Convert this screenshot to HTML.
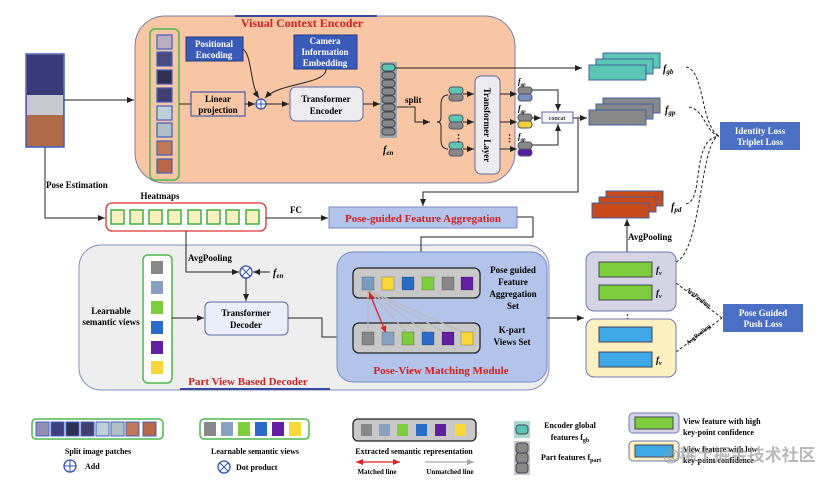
<!DOCTYPE html>
<html><head><meta charset="utf-8"><style>
body{margin:0;background:#fff}
svg text{font-family:"Liberation Serif",serif;font-weight:bold}
</style></head><body>
<svg width="831" height="480" viewBox="0 0 831 480" xmlns="http://www.w3.org/2000/svg">
<defs>
<marker id="a" markerWidth="8" markerHeight="8" refX="7" refY="4" orient="auto" markerUnits="userSpaceOnUse"><path d="M0,1 L7,4 L0,7z" fill="#222"/></marker>
<marker id="r" markerWidth="8" markerHeight="8" refX="7" refY="4" orient="auto-start-reverse" markerUnits="userSpaceOnUse"><path d="M0,1 L7,4 L0,7z" fill="#e02020"/></marker>
<marker id="g" markerWidth="8" markerHeight="8" refX="7" refY="4" orient="auto" markerUnits="userSpaceOnUse"><path d="M0,1 L7,4 L0,7z" fill="#aaa"/></marker>
<g id="tok"><rect x="0" y="0" width="14" height="7" rx="3" fill="#5cc6b4" stroke="#556"/><rect x="0" y="7" width="14" height="7" rx="3" fill="#888" stroke="#556"/></g>
</defs>

<!-- Encoder -->
<rect x="135" y="16" width="380" height="167" rx="30" fill="#f8c6a4" stroke="#7a80a8"/>
<line x1="235" y1="16" x2="377" y2="16" stroke="#3a4aa0" stroke-width="2"/>
<text x="302" y="27" font-size="12" fill="#d02020" text-anchor="middle">Visual Context Encoder</text>

<!-- person -->
<rect x="26" y="54" width="38" height="93" fill="#b06a48" stroke="#4060c0" stroke-width="1.5"/>
<rect x="27" y="55" width="36" height="40" fill="#3a3a78"/>
<rect x="27" y="95" width="36" height="20" fill="#c8c8d0"/>
<line x1="64" y1="100" x2="134" y2="100" stroke="#222" marker-end="url(#a)"/>
<polyline points="45,147 45,218 105,218" fill="none" stroke="#222" marker-end="url(#a)"/>
<text x="46" y="188" font-size="9">Pose Estimation</text>

<!-- patches -->
<rect x="150" y="29" width="29" height="151" rx="5" fill="none" stroke="#4cb84c" stroke-width="1.5"/>
<g stroke="#4060c0" stroke-width="1.2">
<rect x="157" y="35" width="15" height="14" fill="#b8b0c0"/><rect x="157" y="52" width="15" height="14" fill="#4a4a80"/>
<rect x="157" y="70" width="15" height="14" fill="#303050"/><rect x="157" y="88" width="15" height="14" fill="#404070"/>
<rect x="157" y="106" width="15" height="14" fill="#c0d0d8"/><rect x="157" y="123" width="15" height="14" fill="#b0c0c8"/>
<rect x="157" y="141" width="15" height="14" fill="#c07858"/><rect x="157" y="159" width="15" height="14" fill="#b86848"/>
</g>
<line x1="179" y1="104" x2="191" y2="104" stroke="#222"/>
<rect x="186" y="37" width="57" height="24" fill="#3a5bb8" stroke="#233a80"/>
<text x="214" y="47" font-size="9" fill="#fff" text-anchor="middle">Positional</text>
<text x="214" y="58" font-size="9" fill="#fff" text-anchor="middle">Encoding</text>
<rect x="294" y="35" width="63" height="34" fill="#3a5bb8" stroke="#233a80"/>
<text x="325" y="44" font-size="9" fill="#fff" text-anchor="middle">Camera</text>
<text x="325" y="55" font-size="9" fill="#fff" text-anchor="middle">Information</text>
<text x="325" y="66" font-size="9" fill="#fff" text-anchor="middle">Embedding</text>
<rect x="191" y="92" width="54" height="24" fill="#f8c6a4" stroke="#4060a0" stroke-width="1.2"/>
<text x="218" y="102" font-size="9" text-anchor="middle">Linear</text>
<text x="218" y="113" font-size="9" text-anchor="middle">projection</text>
<line x1="245" y1="104" x2="255" y2="104" stroke="#222" marker-end="url(#a)"/>
<circle cx="261" cy="104" r="5" fill="#fff" stroke="#3050b0" stroke-width="1.3"/>
<path d="M256,104h10M261,99v10" stroke="#3050b0"/>
<path d="M243,49 C252,55 250,85 259,98" fill="none" stroke="#222" marker-end="url(#a)"/>
<path d="M326,69 C326,85 280,82 265,98" fill="none" stroke="#222" marker-end="url(#a)"/>
<line x1="266" y1="104" x2="289" y2="104" stroke="#222" marker-end="url(#a)"/>
<rect x="290" y="87" width="73" height="34" rx="6" fill="#ececf0" stroke="#5a6aa0"/>
<text x="326" y="102" font-size="9" text-anchor="middle">Transformer</text>
<text x="326" y="114" font-size="9" text-anchor="middle">Encoder</text>
<line x1="363" y1="104" x2="380" y2="104" stroke="#222" marker-end="url(#a)"/>

<!-- f_en column -->
<rect x="380" y="62" width="17" height="76" fill="#9aa8a8"/>
<rect x="382" y="64" width="13" height="7" rx="3" fill="#5cc6b4" stroke="#445"/>
<g fill="#888" stroke="#445">
<rect x="382" y="72" width="13" height="7" rx="3"/><rect x="382" y="80" width="13" height="7" rx="3"/><rect x="382" y="88" width="13" height="7" rx="3"/><rect x="382" y="96" width="13" height="7" rx="3"/><rect x="382" y="104" width="13" height="7" rx="3"/><rect x="382" y="112" width="13" height="7" rx="3"/><rect x="382" y="120" width="13" height="7" rx="3"/><rect x="382" y="128" width="13" height="7" rx="3"/>
</g>
<text x="383" y="153" font-size="10" font-style="italic">f<tspan font-size="7" dy="2">en</tspan></text>
<line x1="395" y1="68" x2="582" y2="68" stroke="#222" marker-end="url(#a)"/>
<text x="405" y="103" font-size="9">split</text>
<polyline points="397,107 415,107 415,122 430,122" fill="none" stroke="#222" marker-end="url(#a)"/>
<path d="M448,95 Q441,95 441,105 L441,118 Q441,122 437,122 Q441,122 441,126 L441,140 Q441,149 448,149" fill="none" stroke="#222"/>
<use href="#tok" x="449" y="87"/><use href="#tok" x="449" y="115"/><use href="#tok" x="449" y="142"/>
<text x="454" y="141" font-size="9">⋮</text>
<g stroke="#222"><line x1="463" y1="94" x2="474" y2="94" marker-end="url(#a)"/><line x1="463" y1="122" x2="474" y2="122" marker-end="url(#a)"/><line x1="463" y1="149" x2="474" y2="149" marker-end="url(#a)"/></g>
<rect x="475" y="76" width="25" height="98" rx="6" fill="#ececf0" stroke="#5a6aa0"/>
<text x="0" y="0" font-size="9" transform="translate(484,125) rotate(90)" text-anchor="middle">Transformer Layer</text>
<g stroke="#222"><line x1="500" y1="94" x2="517" y2="94" marker-end="url(#a)"/><line x1="500" y1="122" x2="517" y2="122" marker-end="url(#a)"/><line x1="500" y1="149" x2="517" y2="149" marker-end="url(#a)"/></g>
<text x="505" y="141" font-size="9">⋮</text>
<g stroke="#556">
<rect x="518" y="87" width="14" height="7" rx="3" fill="#888"/><rect x="518" y="94" width="14" height="7" rx="3" fill="#7890c0"/>
<rect x="518" y="114" width="14" height="7" rx="3" fill="#888"/><rect x="518" y="121" width="14" height="7" rx="3" fill="#f0d040"/>
<rect x="518" y="142" width="14" height="7" rx="3" fill="#888"/><rect x="518" y="149" width="14" height="7" rx="3" fill="#5020a0"/>
</g>
<text x="518" y="84" font-size="8" font-style="italic">f<tspan font-size="5" dy="2">gp</tspan></text>
<text x="518" y="111" font-size="8" font-style="italic">f<tspan font-size="5" dy="2">gp</tspan></text>
<text x="518" y="139" font-size="8" font-style="italic">f<tspan font-size="5" dy="2">gp</tspan></text>
<polyline points="532,90 558,90 558,111" fill="none" stroke="#222" marker-end="url(#a)"/>
<polyline points="532,145 558,145 558,124" fill="none" stroke="#222" marker-end="url(#a)"/>
<line x1="532" y1="118" x2="541" y2="118" stroke="#222" marker-end="url(#a)"/>
<rect x="542" y="112" width="31" height="11" fill="#f4f4f8" stroke="#5a6aa0"/>
<text x="557" y="120" font-size="6" font-weight="normal" text-anchor="middle" fill="#444">concat</text>
<line x1="573" y1="118" x2="587" y2="118" stroke="#222" marker-end="url(#a)"/>
<polyline points="578,118 578,192 423,192 423,206" fill="none" stroke="#222" marker-end="url(#a)"/>

<!-- stacks -->
<g stroke="#4060a0"><rect x="603" y="53" width="57" height="15" fill="#5cc6b4"/><rect x="596" y="59" width="57" height="15" fill="#5cc6b4"/><rect x="589" y="65" width="57" height="15" fill="#5cc6b4"/></g>
<text x="663" y="72" font-size="10" font-style="italic">f<tspan font-size="7" dy="2">gb</tspan></text>
<g stroke="#4060a0"><rect x="603" y="98" width="57" height="15" fill="#888"/><rect x="596" y="104" width="57" height="15" fill="#888"/><rect x="589" y="110" width="57" height="15" fill="#888"/></g>
<text x="665" y="113" font-size="10" font-style="italic">f<tspan font-size="7" dy="2">gp</tspan></text>
<g stroke="#4060a0"><rect x="606" y="191" width="57" height="15" fill="#c84a1a"/><rect x="599" y="197" width="57" height="15" fill="#c84a1a"/><rect x="592" y="203" width="57" height="15" fill="#c84a1a"/></g>
<text x="671" y="210" font-size="10" font-style="italic">f<tspan font-size="7" dy="2">pd</tspan></text>
<line x1="627" y1="252" x2="627" y2="219" stroke="#222" marker-end="url(#a)"/>
<text x="628" y="240" font-size="9">AvgPooling</text>

<rect x="720" y="122" width="80" height="28" fill="#4a6fc4"/>
<text x="760" y="134" font-size="9" fill="#fff" text-anchor="middle">Identity Loss</text>
<text x="760" y="145" font-size="9" fill="#fff" text-anchor="middle">Triplet Loss</text>
<g fill="none" stroke="#222" stroke-dasharray="3,2">
<path d="M686,67 C705,70 700,125 719,136"/>
<path d="M689,107 C705,110 705,132 719,136"/>
<path d="M686,204 C705,200 690,140 719,136"/>
<path d="M676,262 C702,250 700,140 719,136"/>
<path d="M676,283 L722,318"/><path d="M676,352 L722,318"/>
</g>
<text x="0" y="0" font-size="6" transform="translate(686,290) rotate(38)">AvgPooling</text>
<text x="0" y="0" font-size="6" transform="translate(688,345) rotate(-38)">AvgPooling</text>

<!-- heatmaps -->
<text x="160" y="199" font-size="9" text-anchor="middle">Heatmaps</text>
<rect x="106" y="203" width="160" height="28" rx="6" fill="#fff" stroke="#e03030" stroke-width="1.3"/>
<g fill="#fcf0c0" stroke="#3cb03c" stroke-width="1.5">
<rect x="111" y="210" width="13" height="14"/><rect x="130" y="210" width="13" height="14"/><rect x="149" y="210" width="13" height="14"/><rect x="168" y="210" width="13" height="14"/><rect x="188" y="210" width="13" height="14"/><rect x="207" y="210" width="13" height="14"/><rect x="226" y="210" width="13" height="14"/><rect x="246" y="210" width="13" height="14"/>
</g>
<text x="296" y="213" font-size="9" text-anchor="middle">FC</text>
<line x1="266" y1="218" x2="328" y2="218" stroke="#222" marker-end="url(#a)"/>
<rect x="329" y="207" width="188" height="21" fill="#b4c3ea" stroke="#7a8ac8"/>
<text x="423" y="222" font-size="11" fill="#d02020" text-anchor="middle">Pose-guided Feature Aggregation</text>

<!-- decoder -->
<rect x="79" y="245" width="470" height="145" rx="22" fill="#eeeeee" stroke="#8090c0"/>
<line x1="180" y1="389" x2="330" y2="389" stroke="#3a4aa0" stroke-width="2"/>
<text x="248" y="385" font-size="11" fill="#d02020" text-anchor="middle">Part View Based Decoder</text>
<polyline points="186,231 186,272 239,272" fill="none" stroke="#222" marker-end="url(#a)"/>
<polyline points="517,217 533,217 533,237 421,237 421,266" fill="none" stroke="#222" marker-end="url(#a)"/>
<text x="188" y="261" font-size="9">AvgPooling</text>
<circle cx="246" cy="272" r="6" fill="#fff" stroke="#3050b0" stroke-width="1.3"/>
<path d="M242,268l8,8M250,268l-8,8" stroke="#3050b0"/>
<line x1="270" y1="272" x2="253" y2="272" stroke="#222" marker-end="url(#a)"/>
<text x="273" y="276" font-size="10" font-style="italic">f<tspan font-size="7" dy="2">en</tspan></text>
<line x1="246" y1="278" x2="246" y2="301" stroke="#222" marker-end="url(#a)"/>
<rect x="143" y="255" width="29" height="128" rx="5" fill="#fff" stroke="#4cb84c" stroke-width="1.5"/>
<rect x="151" y="261" width="12" height="13" fill="#888"/><rect x="151" y="281" width="12" height="13" fill="#8aa0c0"/>
<rect x="151" y="301" width="12" height="13" fill="#7ccc3c"/><rect x="151" y="321" width="12" height="13" fill="#2a6cc8"/>
<rect x="151" y="341" width="12" height="13" fill="#6020a0"/><rect x="151" y="361" width="12" height="13" fill="#f8d838"/>
<text x="111" y="314" font-size="9" text-anchor="middle">Learnable</text>
<text x="111" y="325" font-size="9" text-anchor="middle">semantic views</text>
<line x1="172" y1="318" x2="204" y2="318" stroke="#222" marker-end="url(#a)"/>
<rect x="205" y="302" width="83" height="33" rx="5" fill="#eaeef8" stroke="#5a6aa0"/>
<text x="246" y="316" font-size="9" text-anchor="middle">Transformer</text>
<text x="246" y="328" font-size="9" text-anchor="middle">Decoder</text>
<polyline points="288,318 322,318 322,337 352,337" fill="none" stroke="#222" marker-end="url(#a)"/>

<!-- PVMM -->
<rect x="337" y="252" width="210" height="130" rx="16" fill="#b4c3ea" stroke="#7a8ac8"/>
<text x="441" y="374" font-size="11" fill="#d02020" text-anchor="middle">Pose-View Matching Module</text>
<rect x="353" y="268" width="127" height="30" rx="6" fill="#c8c8c8" stroke="#222" stroke-width="1.3"/>
<rect x="353" y="323" width="127" height="30" rx="6" fill="#c8c8c8" stroke="#222" stroke-width="1.3"/>
<g stroke="#bbb" stroke-width="1.2" fill="none">
<line x1="368" y1="290" x2="368" y2="334"/><line x1="368" y1="290" x2="408" y2="334"/><line x1="368" y1="290" x2="428" y2="334"/><line x1="368" y1="290" x2="448" y2="334"/><line x1="368" y1="290" x2="467" y2="334"/>
</g>
<line x1="369" y1="292" x2="386" y2="333" stroke="#e02020" stroke-width="1.3" marker-start="url(#r)" marker-end="url(#r)"/>
<g stroke="#0003">
<rect x="362" y="277" width="12" height="13" fill="#7a9cc0"/><rect x="382" y="277" width="12" height="13" fill="#f8d838"/><rect x="402" y="277" width="12" height="13" fill="#2a6cc8"/><rect x="422" y="277" width="12" height="13" fill="#7ccc3c"/><rect x="442" y="277" width="12" height="13" fill="#888"/><rect x="461" y="277" width="12" height="13" fill="#6020a0"/>
<rect x="362" y="332" width="12" height="13" fill="#888"/><rect x="382" y="332" width="12" height="13" fill="#8aa0c0"/><rect x="402" y="332" width="12" height="13" fill="#7ccc3c"/><rect x="422" y="332" width="12" height="13" fill="#2a6cc8"/><rect x="442" y="332" width="12" height="13" fill="#6020a0"/><rect x="461" y="332" width="12" height="13" fill="#f8d838"/>
</g>
<g font-size="9" text-anchor="middle"><text x="513" y="273">Pose guided</text><text x="513" y="285">Feature</text><text x="513" y="297">Aggregation</text><text x="513" y="309">Set</text>
<text x="512" y="333">K-part</text><text x="512" y="345">Views Set</text></g>
<line x1="547" y1="318" x2="584" y2="318" stroke="#222" marker-end="url(#a)"/>

<!-- f_v boxes -->
<rect x="586" y="252" width="90" height="59" rx="8" fill="#d4d4e4" stroke="#6a7ab0"/>
<rect x="599" y="262" width="53" height="15" fill="#7ccc3c" stroke="#445"/><rect x="599" y="285" width="53" height="15" fill="#7ccc3c" stroke="#445"/>
<text x="656" y="273" font-size="9" font-style="italic">f<tspan font-size="6" dy="2">v</tspan></text>
<text x="656" y="296" font-size="9" font-style="italic">f<tspan font-size="6" dy="2">v</tspan></text>
<text x="623" y="321" font-size="9">⋮</text>
<rect x="586" y="319" width="90" height="58" rx="8" fill="#fcf0c0" stroke="#6a7ab0"/>
<rect x="599" y="327" width="53" height="15" fill="#3fa9e8" stroke="#445"/><rect x="599" y="352" width="53" height="15" fill="#3fa9e8" stroke="#445"/>
<text x="656" y="363" font-size="9" font-style="italic">f<tspan font-size="6" dy="2">v</tspan></text>
<rect x="723" y="304" width="80" height="28" fill="#4a6fc4"/>
<text x="763" y="316" font-size="9" fill="#fff" text-anchor="middle">Pose Guided</text>
<text x="763" y="327" font-size="9" fill="#fff" text-anchor="middle">Push Loss</text>

<!-- legend -->
<rect x="32" y="419" width="131" height="20" rx="4" fill="#fff" stroke="#4cb84c" stroke-width="1.5"/>
<g stroke="#4060c0"><rect x="36" y="422" width="13" height="14" fill="#9090b0"/><rect x="51" y="422" width="13" height="14" fill="#404080"/><rect x="66" y="422" width="13" height="14" fill="#303050"/><rect x="81" y="422" width="13" height="14" fill="#404070"/><rect x="96" y="422" width="13" height="14" fill="#c0d0d8"/><rect x="111" y="422" width="13" height="14" fill="#b0c0c8"/><rect x="126" y="422" width="13" height="14" fill="#c07858"/><rect x="143" y="422" width="13" height="14" fill="#b86848"/></g>
<text x="98" y="454" font-size="8" text-anchor="middle">Split image patches</text>
<circle cx="70" cy="466" r="6" fill="#fff" stroke="#3050b0" stroke-width="1.3"/><path d="M64,466h12M70,460v12" stroke="#3050b0"/>
<text x="85" y="469" font-size="8">Add</text>
<rect x="200" y="419" width="109" height="20" rx="4" fill="#fff" stroke="#4cb84c" stroke-width="1.5"/>
<rect x="204" y="422" width="12" height="14" fill="#888"/><rect x="221" y="422" width="12" height="14" fill="#8aa0c0"/><rect x="238" y="422" width="12" height="14" fill="#7ccc3c"/><rect x="255" y="422" width="12" height="14" fill="#2a6cc8"/><rect x="272" y="422" width="12" height="14" fill="#6020a0"/><rect x="289" y="422" width="12" height="14" fill="#f8d838"/>
<text x="255" y="454" font-size="8" text-anchor="middle">Learnable semantic views</text>
<circle cx="224" cy="467" r="6" fill="#fff" stroke="#3050b0" stroke-width="1.3"/><path d="M220,463l8,8M228,463l-8,8" stroke="#3050b0"/>
<text x="236" y="470" font-size="8">Dot product</text>
<rect x="353" y="419" width="123" height="22" rx="5" fill="#c8c8c8" stroke="#222" stroke-width="1.3"/>
<rect x="361" y="424" width="11" height="12" fill="#888"/><rect x="379" y="424" width="11" height="12" fill="#8aa0c0"/><rect x="397" y="424" width="11" height="12" fill="#7ccc3c"/><rect x="416" y="424" width="11" height="12" fill="#2a6cc8"/><rect x="435" y="424" width="11" height="12" fill="#6020a0"/><rect x="455" y="424" width="11" height="12" fill="#f8d838"/>
<text x="414" y="454" font-size="8" text-anchor="middle">Extracted semantic representation</text>
<line x1="356" y1="462" x2="400" y2="462" stroke="#e02020" stroke-width="1.3" marker-start="url(#r)" marker-end="url(#r)"/>
<text x="377" y="474" font-size="7" text-anchor="middle">Matched line</text>
<line x1="425" y1="462" x2="474" y2="462" stroke="#aaa" stroke-width="1.3" marker-end="url(#g)"/>
<text x="450" y="474" font-size="7" text-anchor="middle">Unmatched line</text>
<rect x="514" y="421" width="16" height="17" fill="#a8d8d0"/><rect x="516" y="425" width="12" height="9" rx="3" fill="#5cc6b4" stroke="#445"/>
<text x="570" y="428" font-size="8" text-anchor="middle">Encoder global</text>
<text x="570" y="440" font-size="8" text-anchor="middle">features f<tspan font-size="6" dy="2">gb</tspan></text>
<rect x="514" y="441" width="16" height="34" fill="#c8c8c8"/><rect x="516" y="443" width="12" height="10" rx="3" fill="#888" stroke="#445"/><rect x="516" y="453" width="12" height="10" rx="3" fill="#888" stroke="#445"/><rect x="516" y="463" width="12" height="10" rx="3" fill="#888" stroke="#445"/>
<text x="541" y="460" font-size="8">Part features f<tspan font-size="6" dy="2">part</tspan></text>
<rect x="629" y="413" width="50" height="20" rx="4" fill="#d4d4e4" stroke="#6a7ab0"/><rect x="635" y="417" width="38" height="12" fill="#7ccc3c" stroke="#445"/>
<text x="683" y="424" font-size="8">View feature with high</text><text x="683" y="435" font-size="8">key-point confidence</text>
<rect x="629" y="441" width="50" height="20" rx="4" fill="#fcf0c0" stroke="#6a7ab0"/><rect x="635" y="445" width="38" height="12" fill="#3fa9e8" stroke="#445"/>
<text x="683" y="452" font-size="8">View feature with low</text><text x="683" y="463" font-size="8">key-point confidence</text>
<text x="663" y="461" font-size="17" font-weight="normal" fill="#9a9a9a" fill-opacity="0.7" style="font-family:'Liberation Sans','Noto Sans CJK SC',sans-serif">@稀土掘金技术社区</text>
</svg>
</body></html>
